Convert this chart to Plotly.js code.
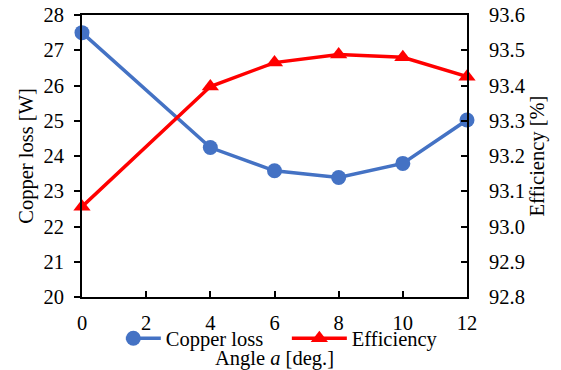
<!DOCTYPE html>
<html>
<head>
<meta charset="utf-8">
<script src="https://cdn.plot.ly/plotly-3.0.1.min.js"></script>
<style>
  html, body { margin: 0; padding: 0; background: #fff; }
  #chart { width: 561px; height: 370px; }
</style>
</head>
<body>
<div id="chart"></div>
<script>
// Rotation angle a in degrees
const angles = [0, 4, 6, 8, 10, 12];
// Copper loss in watts
const copperLoss = [27.5, 24.24, 23.58, 23.39, 23.79, 25.02];
// Efficiency in percent
const efficiency = [93.056, 93.397, 93.465, 93.488, 93.48, 93.425];

const xTicks = [0, 2, 4, 6, 8, 10, 12];
const lossTicks = [20, 21, 22, 23, 24, 25, 26, 27, 28];
const effTicks = [92.8, 92.9, 93.0, 93.1, 93.2, 93.3, 93.4, 93.5, 93.6];

const FONT = '"Times New Roman", "Liberation Serif", serif';
const SIZE = 20.5;

const traces = [
  {
    x: angles, y: copperLoss, name: 'Copper loss', type: 'scatter', mode: 'lines+markers',
    line: { color: '#4472C4', width: 3.5 },
    marker: { color: '#4472C4', size: 15, symbol: 'circle' },
    cliponaxis: false
  },
  {
    x: angles, y: efficiency, name: 'Efficiency', type: 'scatter', mode: 'lines+markers',
    yaxis: 'y2',
    line: { color: '#FF0000', width: 3.5 },
    marker: { color: '#FF0000', size: 15, symbol: 'triangle-up' },
    cliponaxis: false
  }
];

const layout = {
  width: 561, height: 370,
  margin: { l: 82, r: 94, t: 15, b: 73 },
  paper_bgcolor: '#fff', plot_bgcolor: '#fff',
  font: { family: FONT, size: SIZE, color: '#000' },
  showlegend: true,
  legend: {
    orientation: 'h', x: 0.597, xanchor: 'center', y: -0.147, yanchor: 'middle',
    entrywidth: 141,
    font: { family: FONT, size: SIZE, color: '#000' },
    bgcolor: 'rgba(0,0,0,0)'
  },
  xaxis: {
    range: [0, 12], tickvals: xTicks, ticktext: xTicks.map(String),
    showgrid: false, zeroline: false,
    showline: true, linecolor: '#000', linewidth: 2, mirror: true,
    ticks: 'inside', ticklen: 6, tickwidth: 2, tickcolor: '#000',
    ticklabelstandoff: 6,
    tickfont: { family: FONT, size: SIZE },
    title: { text: 'Angle <i>a</i> [deg.]', font: { family: FONT, size: SIZE }, standoff: 25 }
  },
  yaxis: {
    range: [20, 28], tickvals: lossTicks, ticktext: lossTicks.map(String),
    showgrid: false, zeroline: false,
    showline: true, linecolor: '#000', linewidth: 2,
    ticks: 'outside', ticklen: 6, tickwidth: 2, tickcolor: '#000',
    ticklabelstandoff: 6,
    tickfont: { family: FONT, size: SIZE },
    title: { text: 'Copper loss [W]', font: { family: FONT, size: SIZE }, standoff: 4 }
  },
  yaxis2: {
    range: [92.8, 93.6], overlaying: 'y', side: 'right',
    tickvals: effTicks, ticktext: effTicks.map(v => v.toFixed(1)),
    showgrid: false, zeroline: false,
    showline: true, linecolor: '#000', linewidth: 2,
    ticks: 'inside', ticklen: 6, tickwidth: 2, tickcolor: '#000',
    ticklabelstandoff: 16,
    tickfont: { family: FONT, size: SIZE },
    title: { text: 'Efficiency [%]', font: { family: FONT, size: SIZE }, standoff: 6 }
  }
};

// Longer legend sample lines, marker kept centred on each line
function widenLegendSamples(gd) {
  gd.querySelectorAll('.legend .traces').forEach(function (item) {
    item.querySelectorAll('.legendlines path').forEach(function (p) {
      p.setAttribute('d', 'M-20,0h55');
    });
    item.querySelectorAll('.legendpoints path').forEach(function (p) {
      p.setAttribute('transform', 'translate(7.5,0)');
    });
  });
}

Plotly.newPlot('chart', traces, layout, { displayModeBar: false, staticPlot: true })
  .then(widenLegendSamples);
</script>
</body>
</html>
